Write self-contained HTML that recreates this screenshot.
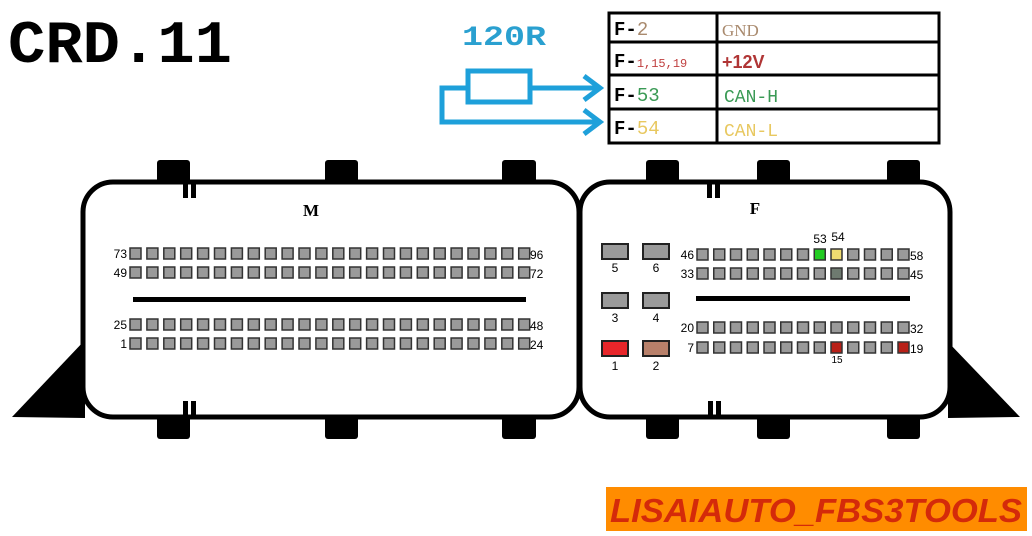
<!DOCTYPE html>
<html><head><meta charset="utf-8"><style>
html,body{margin:0;padding:0;background:#fff;width:1032px;height:536px;overflow:hidden}
svg{display:block}
</style></head><body>
<svg id="s" width="1032" height="536" viewBox="0 0 1032 536" xmlns="http://www.w3.org/2000/svg">
<text x="8" y="62" font-family="Liberation Mono, monospace" font-weight="bold" font-size="60" fill="#000" textLength="224" lengthAdjust="spacingAndGlyphs">CRD.11</text>
<text x="462" y="45" font-family="Liberation Mono, monospace" font-weight="bold" font-size="28" fill="#2aa0d0" textLength="84" lengthAdjust="spacingAndGlyphs">120R</text>
<g stroke="#1ea0da" stroke-width="5" fill="none">
<rect x="468" y="71" width="62" height="31"/>
<polyline points="530,88 598,88"/>
<polyline points="468,88 442,88 442,122 598,122"/>
<polyline points="584,76 600,88 584,100"/>
<polyline points="584,110 600,122 584,134"/>
</g>
<g stroke="#000" stroke-width="3" fill="none">
<rect x="609" y="13" width="330" height="130"/>
<line x1="717" y1="13" x2="717" y2="143"/>
<line x1="609" y1="42" x2="939" y2="42"/>
<line x1="609" y1="75" x2="939" y2="75"/>
<line x1="609" y1="109" x2="939" y2="109"/>
</g>
<g font-family="Liberation Mono, monospace" font-size="19">
<text x="614" y="35"><tspan font-weight="bold">F-</tspan><tspan fill="#a98a6e">2</tspan></text>
<text x="614" y="67"><tspan font-weight="bold">F-</tspan><tspan fill="#c04040" font-size="12">1,15,19</tspan></text>
<text x="614" y="101"><tspan font-weight="bold">F-</tspan><tspan fill="#3a9a55">53</tspan></text>
<text x="614" y="134"><tspan font-weight="bold">F-</tspan><tspan fill="#e8c860">54</tspan></text>
<text x="722" y="36" font-family="Liberation Serif, serif" font-size="17" fill="#a98a6e">GND</text>
<text x="722" y="68" font-family="Liberation Sans, sans-serif" font-weight="bold" font-size="18" fill="#b03535">+12V</text>
<text x="724" y="102" font-size="18" fill="#3a9a55">CAN-H</text>
<text x="724" y="136" font-size="18" fill="#e8c860">CAN-L</text>
</g>
<g fill="#000">
<rect x="157" y="160" width="33" height="26" rx="3"/><rect x="325" y="160" width="33" height="26" rx="3"/><rect x="502" y="160" width="34" height="26" rx="3"/>
<rect x="157" y="413" width="33" height="26" rx="3"/><rect x="325" y="413" width="33" height="26" rx="3"/><rect x="502" y="413" width="34" height="26" rx="3"/>
<rect x="646" y="160" width="33" height="26" rx="3"/><rect x="757" y="160" width="33" height="26" rx="3"/><rect x="887" y="160" width="33" height="26" rx="3"/>
<rect x="646" y="413" width="33" height="26" rx="3"/><rect x="757" y="413" width="33" height="26" rx="3"/><rect x="887" y="413" width="33" height="26" rx="3"/>
<polygon points="12,417 85,340 85,418"/>
<polygon points="1020,417 948,342 948,418"/>
</g>
<rect x="83" y="182" width="496" height="235" rx="30" fill="#fff" stroke="#000" stroke-width="5"/>
<rect x="580" y="182" width="370" height="235" rx="30" fill="#fff" stroke="#000" stroke-width="5"/>
<g fill="#000">
<rect x="183" y="182" width="5" height="16"/><rect x="191" y="182" width="5" height="16"/>
<rect x="183" y="401" width="5" height="16"/><rect x="191" y="401" width="5" height="16"/>
<rect x="707" y="182" width="5" height="16"/><rect x="715" y="182" width="5" height="16"/>
<rect x="708" y="401" width="5" height="16"/><rect x="716" y="401" width="5" height="16"/>
<rect x="133" y="297" width="393" height="5"/>
<rect x="696" y="296" width="214" height="5"/>
</g>
<text x="311" y="216" font-family="Liberation Serif, serif" font-weight="bold" font-size="17" text-anchor="middle">M</text>
<text x="755" y="214" font-family="Liberation Serif, serif" font-weight="bold" font-size="17" text-anchor="middle">F</text>
<g id="pins" stroke="#333" stroke-width="1.5" fill="#9a9a9a"></g>
<g id="lbl" font-family="Liberation Sans, sans-serif" font-size="12" fill="#000"></g>
<g stroke="#222" stroke-width="2">
<rect x="602" y="244" width="26" height="15" fill="#9a9a9a"/><rect x="643" y="244" width="26" height="15" fill="#9a9a9a"/>
<rect x="602" y="293" width="26" height="15" fill="#9a9a9a"/><rect x="643" y="293" width="26" height="15" fill="#9a9a9a"/>
<rect x="602" y="341" width="26" height="15" fill="#e8262a"/><rect x="643" y="341" width="26" height="15" fill="#b8806a"/>
</g>
<g font-family="Liberation Sans, sans-serif" font-size="12" text-anchor="middle">
<text x="615" y="272">5</text><text x="656" y="272">6</text>
<text x="615" y="322">3</text><text x="656" y="322">4</text>
<text x="615" y="370">1</text><text x="656" y="370">2</text>
<text x="820" y="243">53</text><text x="838" y="241">54</text>
<text x="837" y="363" font-size="10">15</text>
</g>
<rect x="606" y="487" width="421" height="44" fill="#ff8c00"/>
<text x="816" y="522" font-family="Liberation Sans, sans-serif" font-style="italic" font-weight="bold" font-size="33" fill="#d42a0a" text-anchor="middle" textLength="412" lengthAdjust="spacingAndGlyphs">LISAIAUTO_FBS3TOOLS</text>
</svg>
<script>
var NS="http://www.w3.org/2000/svg",P=document.getElementById("pins"),L=document.getElementById("lbl");
function r(x,y,f){var e=document.createElementNS(NS,"rect");e.setAttribute("x",x);e.setAttribute("y",y);e.setAttribute("width",11);e.setAttribute("height",11);if(f)e.setAttribute("fill",f);P.appendChild(e);}
function t(x,y,s,a){var e=document.createElementNS(NS,"text");e.setAttribute("x",x);e.setAttribute("y",y);if(a)e.setAttribute("text-anchor",a);e.textContent=s;L.appendChild(e);}
var my=[248,267,319,338],ml=["73","49","25","1"],mr=["96","72","48","24"];
for(var j=0;j<4;j++){for(var i=0;i<24;i++)r(130+i*16.9,my[j]);t(127,my[j]+10,ml[j],"end");t(530,my[j]+11,mr[j]);}
var fy=[249,268,322,342],fl=["46","33","20","7"],fr=["58","45","32","19"];
for(var j=0;j<4;j++){for(var i=0;i<13;i++){var f=null;
if(j==0&&i==7)f="#22cc22";if(j==0&&i==8)f="#f0dc70";if(j==1&&i==8)f="#6e7a70";if(j==3&&(i==8||i==12))f="#b82018";
r(697+i*16.75,fy[j],f);}t(694,fy[j]+10,fl[j],"end");t(910,fy[j]+11,fr[j]);}
</script>
</body></html>
